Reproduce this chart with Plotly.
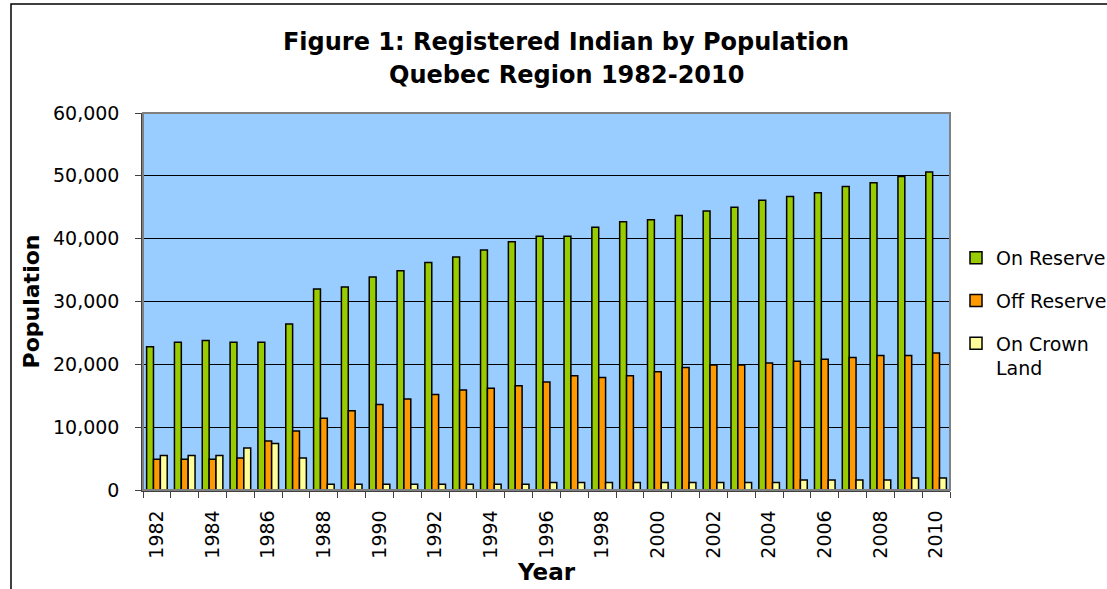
import plotly.graph_objects as go

years = list(range(1982, 2011))
on_reserve = [22800, 23500, 23800, 23500, 23500, 26400, 32000, 32300, 33900, 34900,
              36200, 37100, 38200, 39500, 40400, 40400, 41800, 42700, 43000, 43700,
              44400, 45000, 46100, 46700, 47300, 48300, 48900, 49900, 50600]
off_reserve = [4900, 4900, 4900, 5100, 7800, 9400, 11400, 12600, 13600, 14500,
               15200, 15900, 16200, 16600, 17200, 18200, 17900, 18200, 18800, 19500,
               19900, 19900, 20200, 20500, 20800, 21100, 21400, 21400, 21800]
on_crown = [5500, 5500, 5500, 6700, 7400, 5100, 900, 900, 900, 900,
            900, 900, 900, 900, 1200, 1200, 1200, 1200, 1200, 1200,
            1200, 1200, 1200, 1600, 1600, 1600, 1600, 1900, 1900]
series_names = ["On Reserve", "Off Reserve", "On Crown<br>Land"]
series_colors = ["#99CC00", "#FF9900", "#FFFF99"]
y_ticks = [0, 10000, 20000, 30000, 40000, 50000, 60000]
x_label_years = list(range(1982, 2011, 2))

W, H = 1107, 589
L, R, T, B = 143, 950, 113, 490

FONT = "DejaVu Sans, Liberation Sans, Arial, sans-serif"

fig = go.Figure()
for name, vals, col, grp in zip(series_names, [on_reserve, off_reserve, on_crown], series_colors, ["a", "b", "c"]):
    fig.add_trace(go.Bar(x=years, y=vals, name=name, legendgroup=grp,
                         marker=dict(color=col, line=dict(color="black", width=1.5))))

def px(xp):
    return (xp - L) / (R - L)

def py(yp):
    return (B - yp) / (B - T)

fig.update_layout(
    width=W, height=H,
    margin=dict(l=L, r=W - R, t=T, b=H - B, pad=0, autoexpand=False),
    paper_bgcolor="white",
    plot_bgcolor="#99CCFF",
    barmode="group", bargap=0.26, bargroupgap=0,
    font=dict(family=FONT, color="black", size=19),
    title=dict(text="<b>Figure 1: Registered Indian by Population</b>",
               x=566 / W, xanchor="center", y=1 - 42 / H, yanchor="middle",
               font=dict(size=24, color="black")),
    showlegend=True,
    legend=dict(x=px(956), xanchor="left", y=py(239), yanchor="top",
                bgcolor="rgba(0,0,0,0)", font=dict(size=19),
                tracegroupgap=15, valign="top", itemwidth=30),
    xaxis=dict(
        range=[1981.5, 2010.5],
        tickmode="array", tickvals=x_label_years, ticktext=[str(y) for y in x_label_years],
        tickangle=-90, ticks="", ticklabelstandoff=11,
        showgrid=False, zeroline=False,
        showline=True, linecolor="#404040", linewidth=1.5,
        minor=dict(tickmode="linear", tick0=1981.5, dtick=1, ticks="outside",
                   ticklen=6, tickcolor="#404040", tickwidth=1, showgrid=False),
        title=dict(text="<b>Year</b>", font=dict(size=23), standoff=0),
        tickfont=dict(size=19),
    ),
    yaxis=dict(
        range=[0, 60000],
        tickmode="array", tickvals=y_ticks, ticktext=[f"{v:,}" for v in y_ticks],
        ticks="outside", ticklen=6, tickcolor="#404040", ticklabelstandoff=12,
        showgrid=True, gridcolor="black", gridwidth=1,
        zeroline=False, showline=True, linecolor="#404040", linewidth=1.5,
        title=dict(text="<b>Population</b>", font=dict(size=22), standoff=7),
        tickfont=dict(size=19),
    ),
    annotations=[dict(text="<b>Quebec Region 1982-2010</b>", xref="paper", yref="paper",
                      x=px(566), y=py(75), xanchor="center", yanchor="middle",
                      showarrow=False, font=dict(size=24, color="black"))],
    shapes=[
        dict(type="rect", xref="paper", yref="paper", x0=0, x1=1, y0=0, y1=1,
             line=dict(color="#808080", width=2), layer="above"),
        dict(type="rect", xref="paper", yref="paper", x0=px(11), x1=px(1130), y0=py(4), y1=py(620),
             line=dict(color="black", width=1.5)),
    ],
)

fig.write_html(
    "out.html",
    config={"displayModeBar": False},
    post_script=(
        "document.documentElement.style.margin='0';"
        "document.documentElement.style.overflow='hidden';"
        "document.body.style.margin='0';"
        "document.body.style.overflow='hidden';"
    ),
)
